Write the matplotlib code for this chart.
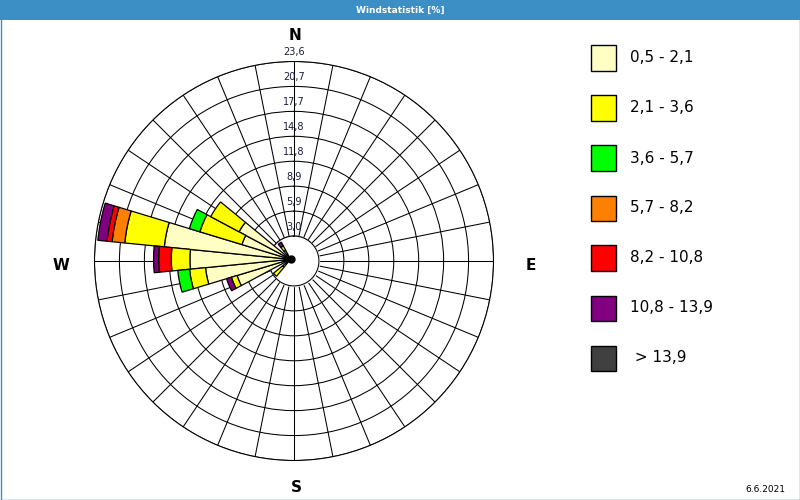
#!/usr/bin/env python3

# Wind rose "Windstatistik [%]" - stacked bars per direction and speed class

import numpy as np
import matplotlib.pyplot as plt
from matplotlib.patches import Rectangle

# Directions (deg, clockwise from N) that carry wind
directions = [225, 247.5, 258.75, 270, 281.25, 292.5, 303.75, 326.25]

# Share [%] of each speed class per direction (stacked outward)
cls_05_21  = [1.2, 6.6, 10.1, 11.9, 15.0, 6.0, 6.9, 1.2]
cls_21_36  = [1.4, 0.7, 1.9, 2.2, 4.7, 5.2, 3.8, 0.6]
cls_36_57  = [0.0, 0.0, 1.4, 0.0, 0.0, 1.3, 0.0, 0.0]
cls_57_82  = [0.0, 0.0, 0.0, 0.0, 1.5, 0.0, 0.0, 0.0]
cls_82_108 = [0.0, 0.0, 0.0, 1.5, 0.6, 0.0, 0.0, 0.0]
cls_108_139 = [0.0, 0.6, 0.0, 0.6, 1.1, 0.0, 0.0, 0.5]
cls_139    = [0.0, 0.0, 0.0, 0.0, 0.0, 0.0, 0.0, 0.0]

classes = [cls_05_21, cls_21_36, cls_36_57, cls_57_82, cls_82_108, cls_108_139, cls_139]
class_labels = ["0,5 - 2,1", "2,1 - 3,6", "3,6 - 5,7", "5,7 - 8,2",
                "8,2 - 10,8", "10,8 - 13,9", " > 13,9"]
class_colors = ["#ffffc4", "#ffff00", "#00ff00", "#ff8000",
                "#ff0000", "#800080", "#404040"]

ring_values = [2.95, 5.9, 8.85, 11.8, 14.75, 17.7, 20.65, 23.6]
ring_labels = ["3,0", "5,9", "8,9", "11,8", "14,8", "17,7", "20,7", "23,6"]

r_max = 23.6
sector = 11.25

W, H = 800, 500
fig = plt.figure(figsize=(8, 5), dpi=100)
fig.patch.set_facecolor("white")

# title bar + thin frame
blue = "#3b8fc4"
fig.patches.append(Rectangle((0, 480 / H), 1, 20 / H, transform=fig.transFigure,
                             facecolor=blue, edgecolor="none", zorder=0))
fig.patches.append(Rectangle((0.5 / W, 0.5 / H), 1 - 1 / W, 1 - 1 / H,
                             transform=fig.transFigure, facecolor="none",
                             edgecolor=blue, linewidth=1, zorder=0))
fig.text(0.5, 1 - 10 / H, "Windstatistik [%]", color="white", fontsize=6.5,
         fontweight="bold", ha="center", va="center")

# grid axes
cx, cy, rad = 294, 261, 199.5
ax = fig.add_axes([(cx - rad) / W, (H - cy - rad) / H, 2 * rad / W, 2 * rad / H],
                  projection="polar")
ax.set_theta_zero_location("N")
ax.set_theta_direction(-1)
ax.set_ylim(0, r_max)
ax.set_thetagrids(np.arange(0, 360, sector), labels=[])
ax.set_rgrids(ring_values, labels=[])
ax.grid(True, color="black", linewidth=0.75)
ax.set_axisbelow(True)
ax.spines["polar"].set_color("black")
ax.spines["polar"].set_linewidth(0.75)

th = np.linspace(0, 2 * np.pi, 361)
ax.fill_between(th, 0, ring_values[0], color="white", zorder=1)
ax.plot(th, np.full_like(th, ring_values[0]), color="black", lw=0.75, zorder=1.1)

for v, lab in zip(ring_values, ring_labels):
    ax.annotate(lab, xy=(0, v), xytext=(0, 6.5), textcoords="offset points",
                ha="center", va="center", fontsize=7, color="#1a1a40",
                annotation_clip=False)

# bar axes (the bars meet a few pixels off the grid centre in the original)
bx, by = 290.5, 259.3
ax2 = fig.add_axes([(bx - rad) / W, (H - by - rad) / H, 2 * rad / W, 2 * rad / H],
                   projection="polar")
ax2.set_theta_zero_location("N")
ax2.set_theta_direction(-1)
ax2.set_ylim(0, r_max)
ax2.set_facecolor("none")
ax2.axis("off")

theta = np.deg2rad(directions)
bottom = np.zeros(len(directions))
for vals, col in zip(classes, class_colors):
    vals = np.array(vals)
    m = vals > 0
    if m.any():
        ax2.bar(theta[m], vals[m], width=np.deg2rad(sector), bottom=bottom[m],
                color=col, edgecolor="black", linewidth=0.9, zorder=2)
    bottom += vals
ax2.plot([0], [0], "o", color="black", ms=5, clip_on=False, zorder=3)

# compass letters
for lab, x, y in [("N", 295, 36), ("S", 296, 488), ("W", 61, 265), ("E", 531, 265)]:
    fig.text(x / W, 1 - y / H, lab, fontsize=11, fontweight="bold",
             ha="center", va="center", color="black")

# legend
for i, (lab, col) in enumerate(zip(class_labels, class_colors)):
    yc = 58 + 50 * i
    fig.patches.append(Rectangle((590.5 / W, 1 - (yc + 12.5) / H), 25 / W, 25 / H,
                                 transform=fig.transFigure, facecolor=col,
                                 edgecolor="black", linewidth=1))
    fig.text(630 / W, 1 - yc / H, lab, fontsize=11, ha="left", va="center",
             color="black")

fig.text(785 / W, 1 - 489 / H, "6.6.2021", fontsize=6.5, ha="right", va="center")

fig.savefig("out.png", dpi=100)
